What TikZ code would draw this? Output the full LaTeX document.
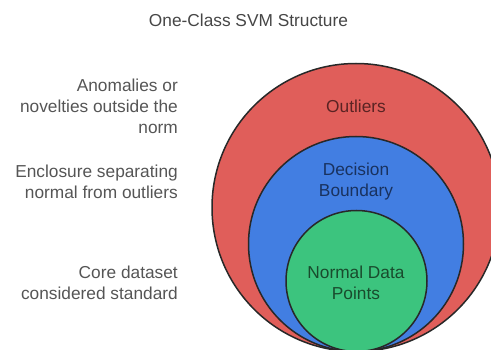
\documentclass[tikz,border=0pt]{standalone}
\usepackage{fontspec}
\setmainfont{Liberation Sans}
\definecolor{outred}{RGB}{224,94,90}
\definecolor{bndblue}{RGB}{66,126,226}
\definecolor{normgreen}{RGB}{60,196,126}
\definecolor{edgegray}{RGB}{40,40,40}
\definecolor{sidegray}{RGB}{85,85,85}
\definecolor{titlegray}{RGB}{70,70,70}
\definecolor{redtext}{RGB}{90,35,35}
\definecolor{bluetext}{RGB}{25,50,95}
\definecolor{greentext}{RGB}{25,75,45}
\tikzset{
  ring/.style={circle, draw=edgegray, line width=1.5pt, inner sep=0pt, outer sep=0pt},
  txt/.style={inner sep=0pt, font=\fontsize{17.3}{21}\selectfont},
  sidenote/.style={txt, anchor=east, align=right, text=sidegray},
  inlabel/.style={txt, align=center}
}
\begin{document}
\begin{tikzpicture}[x=1pt, y=-1pt]
  \useasboundingbox (0,0) rectangle (491,350);
  % nested circles, all tangent at the bottom
  \node[ring, fill=outred, minimum size=288pt] (outer) at (356,207.5) {};
  \node[ring, fill=bndblue, minimum size=215pt] (boundary) at (356,244) {};
  \node[ring, fill=normgreen, minimum size=141pt] (normal) at (356.5,281) {};
  % labels inside the circles
  \node[inlabel, text=redtext] (outlbl) at (356,106) {Outliers};
  \node[inlabel, text=bluetext] (bndlbl) at (356,181.5) {Decision\\Boundary};
  \node[inlabel, text=greentext] (normlbl) at (356,282.5) {Normal Data\\Points};
  % title
  \node[txt, text=titlegray] (title) at (248.5,20) {One-Class SVM Structure};
  % descriptions on the left
  \node[sidenote] (desc1) at (178,106) {Anomalies or\\novelties outside the\\norm};
  \node[sidenote] (desc2) at (178,181.5) {Enclosure separating\\normal from outliers};
  \node[sidenote] (desc3) at (178,282.5) {Core dataset\\considered standard};
\end{tikzpicture}
\end{document}
